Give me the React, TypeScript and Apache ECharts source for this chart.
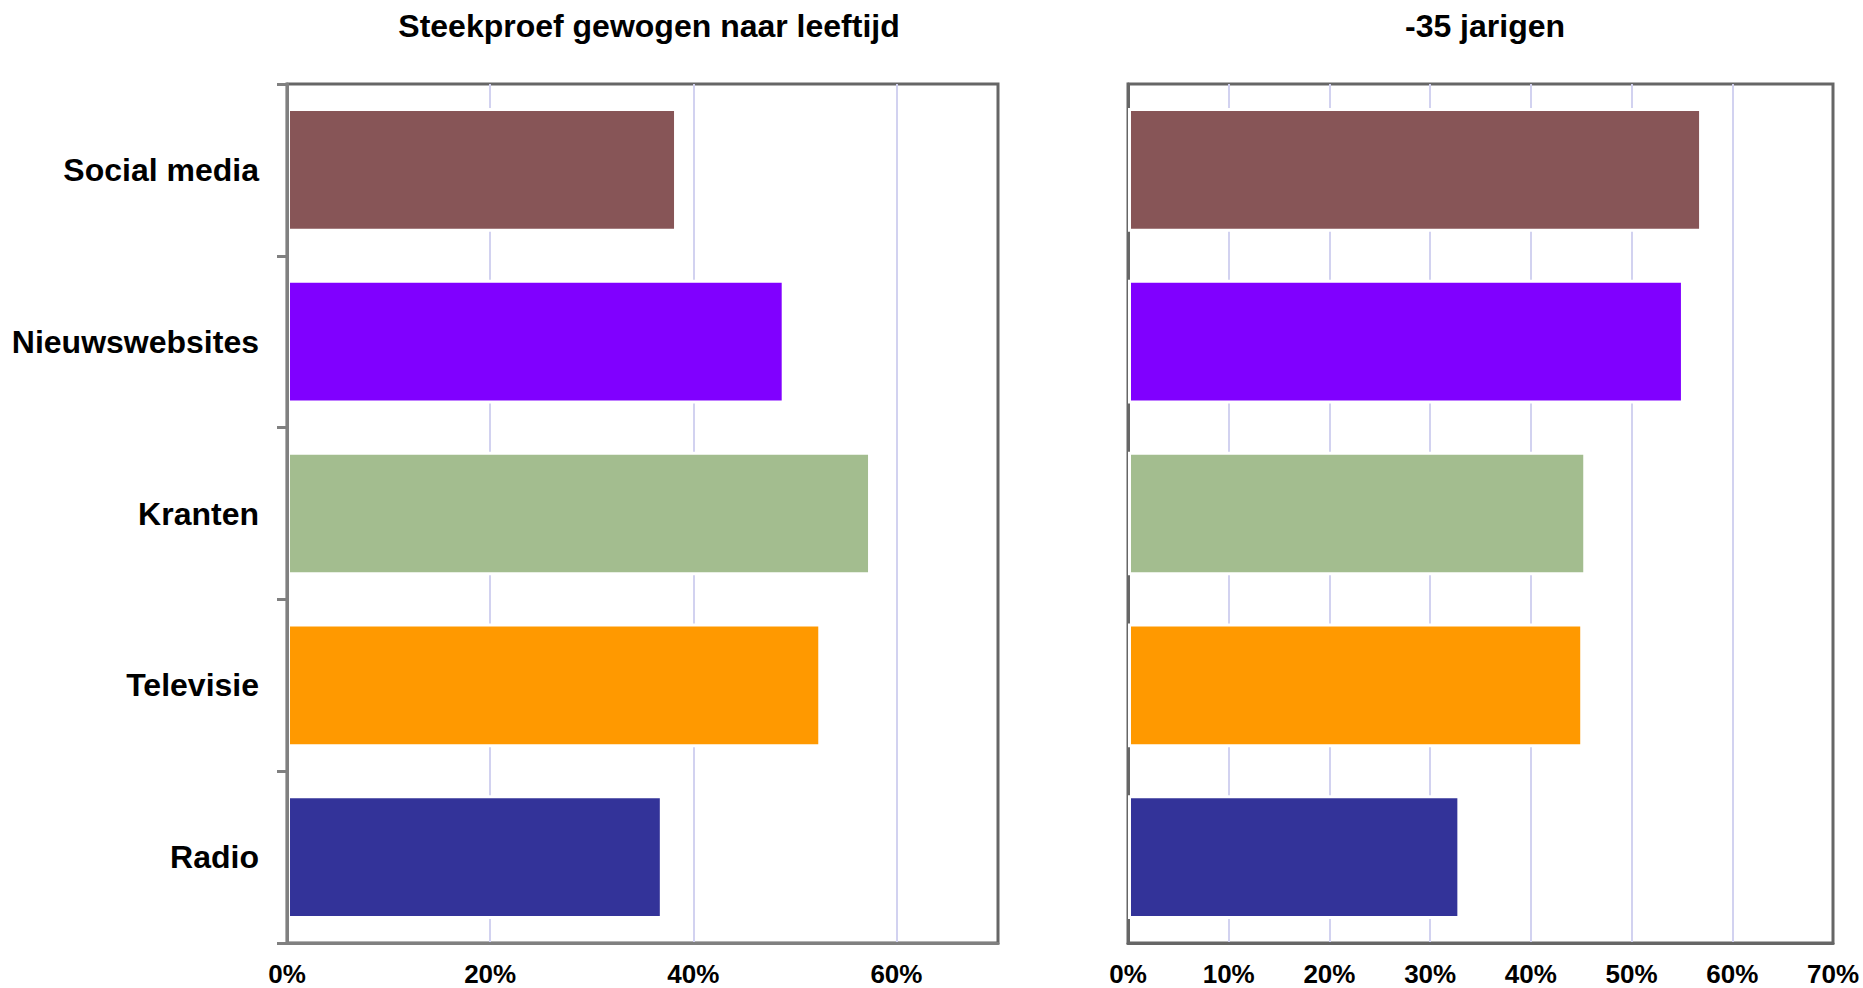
import React, { useEffect, useRef } from "react";
import * as echarts from "echarts";

const categories = ["Social media", "Nieuwswebsites", "Kranten", "Televisie", "Radio"];
const barColors = ["#875557", "#8000FF", "#A3BD8F", "#FF9900", "#333399"];
const weightedSample = [0.384, 0.49, 0.575, 0.526, 0.37];
const under35 = [0.57, 0.552, 0.455, 0.452, 0.33];
const titles = ["Steekproef gewogen naar leeftijd", "-35 jarigen"];

const FONT = '"Liberation Sans", Arial, Helvetica, sans-serif';

export default function App() {
  const ref = useRef<HTMLDivElement>(null);

  useEffect(() => {
    document.body.style.margin = "0";
    if (!ref.current) return;
    const chart = echarts.init(ref.current, undefined, { renderer: "svg" });

    const pct = (v: number) => Math.round(v * 100) + "%";

    const mkData = (vals: number[]) =>
      vals.map((v, i) => ({ value: v, itemStyle: { color: barColors[i] } }));

    const grids = [
      { left: 287, top: 84, width: 711, height: 859 },
      { left: 1128, top: 84, width: 705, height: 859 },
    ];

    const option: any = {
      animation: false,
      backgroundColor: "#fff",
      textStyle: { fontFamily: FONT },
      graphic: [
        {
          type: "text",
          x: 649,
          y: 26,
          style: {
            text: titles[0],
            font: `bold 32px ${FONT}`,
            fill: "#000",
            textAlign: "center",
            textVerticalAlign: "middle",
          },
        },
        {
          type: "text",
          x: 1485,
          y: 26,
          style: {
            text: titles[1],
            font: `bold 32px ${FONT}`,
            fill: "#000",
            textAlign: "center",
            textVerticalAlign: "middle",
          },
        },
      ],
      grid: grids.map((g) => ({
        ...g,
        show: true,
        borderColor: "#666",
        borderWidth: 3,
        backgroundColor: "transparent",
      })),
      xAxis: [
        {
          gridIndex: 0,
          type: "value",
          min: 0,
          max: 0.7,
          interval: 0.2,
          axisLine: { show: true, lineStyle: { color: "#808080", width: 3 } },
          axisTick: { show: false },
          splitLine: {
            show: true,
            showMinLine: false,
            showMaxLine: false,
            lineStyle: { color: "#d2d2f0", width: 2 },
          },
          axisLabel: {
            formatter: pct,
            fontSize: 26,
            fontWeight: "bold",
            color: "#000",
            fontFamily: FONT,
            margin: 18,
            showMaxLabel: false,
          },
        },
        {
          gridIndex: 1,
          type: "value",
          min: 0,
          max: 0.7,
          interval: 0.1,
          axisLine: { show: true, lineStyle: { color: "#666", width: 3 } },
          axisTick: { show: false },
          splitLine: {
            show: true,
            showMinLine: false,
            showMaxLine: false,
            lineStyle: { color: "#d2d2f0", width: 2 },
          },
          axisLabel: {
            formatter: pct,
            fontSize: 26,
            fontWeight: "bold",
            color: "#000",
            fontFamily: FONT,
            margin: 18,
          },
        },
      ],
      yAxis: [
        {
          gridIndex: 0,
          type: "category",
          data: categories,
          inverse: true,
          z: 3,
          axisLine: { show: true, lineStyle: { color: "#808080", width: 3 } },
          axisTick: { show: true, length: 10, lineStyle: { color: "#808080", width: 3 } },
          axisLabel: {
            fontSize: 32,
            fontWeight: "bold",
            color: "#000",
            fontFamily: FONT,
            margin: 28,
          },
        },
        {
          gridIndex: 1,
          type: "category",
          data: categories,
          inverse: true,
          axisLine: { show: true, lineStyle: { color: "#666", width: 3 } },
          axisTick: { show: false },
          axisLabel: { show: false },
        },
      ],
      series: [
        {
          type: "bar",
          name: titles[0],
          xAxisIndex: 0,
          yAxisIndex: 0,
          data: mkData(weightedSample),
          barWidth: "72%",
          itemStyle: { borderColor: "#fff", borderWidth: 3 },
        },
        {
          type: "bar",
          name: titles[1],
          xAxisIndex: 1,
          yAxisIndex: 1,
          data: mkData(under35),
          barWidth: "72%",
          itemStyle: { borderColor: "#fff", borderWidth: 3 },
        },
      ],
    };

    chart.setOption(option);
    return () => chart.dispose();
  }, []);

  return <div ref={ref} style={{ width: 1863, height: 988 }} />;
}
